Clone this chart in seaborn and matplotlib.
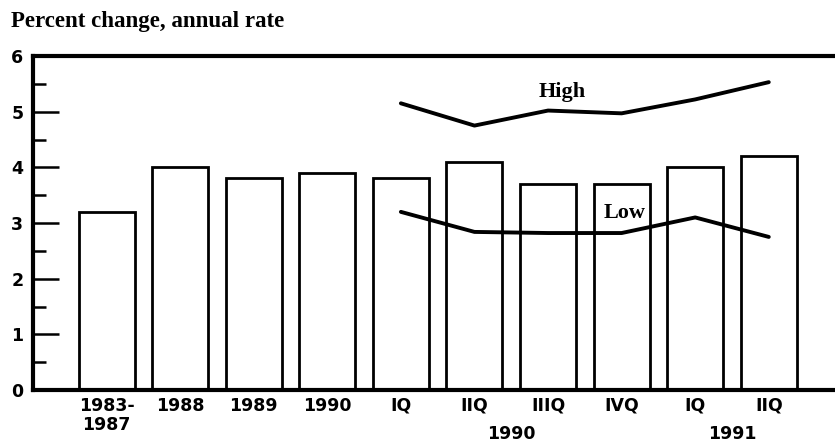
import numpy as np
import pandas as pd
import seaborn as sns
import matplotlib.pyplot as plt
from matplotlib.ticker import MultipleLocator

# data
periods = ["1983-1987", "1988", "1989", "1990",
           "1990 IQ", "1990 IIQ", "1990 IIIQ", "1990 IVQ",
           "1991 IQ", "1991 IIQ"]
tick_labels = ["1983-\n1987", "1988", "1989", "1990",
               "IQ", "IIQ", "IIIQ", "IVQ", "IQ", "IIQ"]
bar_values = [3.2, 4.0, 3.8, 3.9, 3.8, 4.1, 3.7, 3.7, 4.0, 4.2]

range_periods = ["1990 IQ", "1990 IIQ", "1990 IIIQ", "1990 IVQ", "1991 IQ", "1991 IIQ"]
high_values = [5.15, 4.75, 5.02, 4.97, 5.22, 5.53]
low_values = [3.2, 2.84, 2.82, 2.82, 3.1, 2.75]

year_groups = ["1990", "1991"]
year_members = [["1990 IIQ", "1990 IIIQ"], ["1991 IQ", "1991 IIQ"]]

sns.set_style("ticks")
plt.rcParams['font.family'] = ['DejaVu Sans']
plt.rcParams.update({'text.color': 'black', 'xtick.color': 'black',
                     'ytick.color': 'black', 'axes.labelcolor': 'black'})

fig = plt.figure(figsize=(8.35, 4.43), dpi=100)
ax = fig.add_axes([0.0395, 0.1196, 0.9605, 0.754])

df = pd.DataFrame({"period": periods, "value": bar_values})
sns.barplot(data=df, x="period", y="value", order=periods, color="white",
            edgecolor="black", linewidth=2.0, width=0.76, ax=ax)

xpos = [periods.index(p) for p in range_periods]
sns.lineplot(x=xpos, y=high_values, color="black", linewidth=2.8, ax=ax)
sns.lineplot(x=xpos, y=low_values, color="black", linewidth=2.8, ax=ax)

ax.text(6.19, 5.35, "High", family="Liberation Serif", fontweight="bold",
        fontsize=16, ha="center", va="center")
ax.text(7.04, 3.18, "Low", family="Liberation Serif", fontweight="bold",
        fontsize=16, ha="center", va="center")

ax.set_xlim(-1, 9.9)
ax.set_ylim(0, 6)
ax.set_xticks(range(len(periods)))
ax.set_xticklabels(tick_labels, fontsize=12.5, linespacing=1.05, fontweight="bold")
ax.set_xlabel("")
ax.set_ylabel("")
ax.yaxis.set_major_locator(MultipleLocator(1))
ax.yaxis.set_minor_locator(MultipleLocator(0.5))
ax.tick_params(axis="y", which="major", direction="in", length=19, width=1.8,
               labelsize=12.5, pad=7, color="black")
ax.tick_params(axis="y", which="minor", direction="in", length=9, width=1.8,
               color="black")
ax.tick_params(axis="x", length=0, pad=5, labelsize=12.5)
for lab in ax.get_yticklabels():
    lab.set_fontweight("bold")

for g, members in zip(year_groups, year_members):
    xc = np.mean([periods.index(m) for m in members])
    ax.annotate(g, xy=(xc, 0), xycoords="data", xytext=(0, -31.5),
                textcoords="offset points", ha="center", va="center",
                fontsize=12.5, fontweight="bold")

for side in ["left", "bottom", "top"]:
    ax.spines[side].set_linewidth(3)
    ax.spines[side].set_color("black")
ax.spines["right"].set_visible(False)

fig.text(0.013, 0.976, "Percent change, annual rate", family="Liberation Serif",
         fontweight="bold", fontsize=16.5, ha="left", va="top")

fig.savefig("out.png", dpi=100, facecolor="white")
